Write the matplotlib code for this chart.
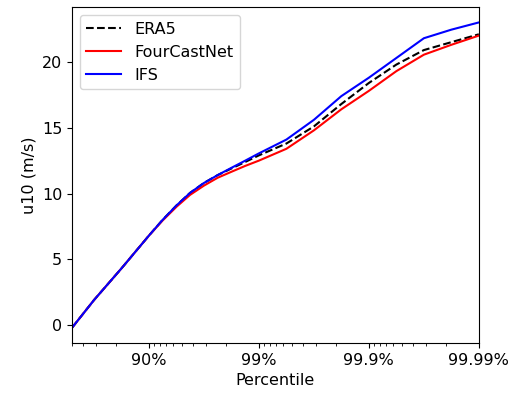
import numpy as np
import matplotlib
matplotlib.use('Agg')
import matplotlib.pyplot as plt

# percentiles (%) and u10 values (m/s)
percentiles = [50, 68.4, 82.2, 90, 92.5, 94.4, 95.78, 96.84, 97.63, 98.22,
               98.67, 99, 99.438, 99.684, 99.822, 99.9, 99.9438, 99.9684,
               99.9822, 99.99]
era5 = [-0.2, 1.9, 4.3, 6.8, 8.0, 9.1, 10.05, 10.8, 11.4, 11.9,
        12.4, 12.9, 13.8, 15.1, 16.8, 18.4, 19.8, 20.9, 21.5, 22.1]
fourcastnet = [-0.2, 1.9, 4.3, 6.8, 7.95, 9.0, 9.9, 10.6, 11.2, 11.65,
               12.1, 12.5, 13.4, 14.8, 16.4, 17.8, 19.3, 20.55, 21.3, 22.0]
ifs = [-0.2, 1.9, 4.3, 6.8, 8.0, 9.1, 10.05, 10.8, 11.4, 11.95,
       12.5, 13.05, 14.1, 15.6, 17.4, 18.8, 20.3, 21.8, 22.45, 23.0]

tick_labels = ['90%', '99%', '99.9%', '99.99%']
tick_pos = [0.1, 0.01, 0.001, 0.0001]

exceed = 1 - np.array(percentiles) / 100.0

fig = plt.figure(figsize=(5.16, 3.98), dpi=100)
ax = fig.add_axes([0.1395, 0.138, 0.7885, 0.844])

ax.plot(exceed, era5, 'k--', lw=1.5, label='ERA5')
ax.plot(exceed, fourcastnet, color='red', lw=1.5, label='FourCastNet')
ax.plot(exceed, ifs, color='blue', lw=1.5, label='IFS')

ax.set_xscale('log')
ax.set_xlim(exceed[0], exceed[-1])
ax.set_xticks(tick_pos)
ax.set_xticklabels(tick_labels)
ax.set_yticks([0, 5, 10, 15, 20])
ax.tick_params(labelsize=11.5)

ax.set_xlabel('Percentile', fontsize=11.5)
ax.set_ylabel('u10 (m/s)', fontsize=11.5)
ax.legend(loc='upper left', fontsize=11.5, handlelength=2.2)

plt.savefig('out.png', dpi=100)
